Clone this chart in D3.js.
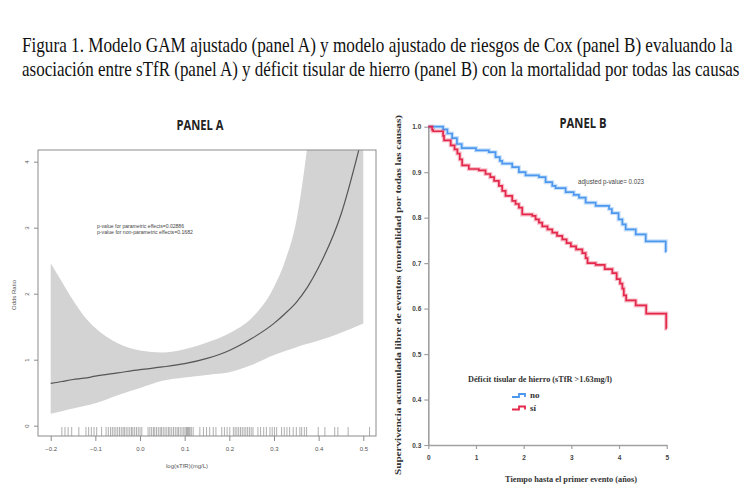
<!DOCTYPE html>
<html>
<head>
<meta charset="utf-8">
<script src="https://cdn.jsdelivr.net/npm/d3@7"></script>
<style>
  body { margin: 0; background: #fff; }
  svg { display: block; }
</style>
</head>
<body>
<div id="chart"></div>
<script>
// figure caption
const titleLines = [
  "Figura 1. Modelo GAM ajustado (panel A) y modelo ajustado de riesgos de Cox (panel B) evaluando la",
  "asociación entre sTfR (panel A) y déficit tisular de hierro (panel B) con la mortalidad por todas las causas"
]
const titleWidths = [711, 718]

// panel A: GAM fit, odds ratio vs log(sTfR)
const gamX     = [-0.2, -0.175, -0.15, -0.125, -0.1, -0.05, 0.0, 0.05, 0.1, 0.15, 0.2, 0.25, 0.3, 0.325, 0.35, 0.375, 0.4, 0.45, 0.5]
const gamFit   = [0.64, 0.67, 0.70, 0.72, 0.75, 0.80, 0.85, 0.89, 0.94, 1.02, 1.14, 1.32, 1.55, 1.70, 1.87, 2.10, 2.40, 3.20, 4.45]
const gamLower = [0.18, 0.22, 0.26, 0.30, 0.34, 0.46, 0.57, 0.68, 0.73, 0.77, 0.81, 0.92, 1.07, 1.13, 1.19, 1.24, 1.29, 1.41, 1.55]
const gamUpper = [2.46, 2.18, 1.90, 1.66, 1.48, 1.25, 1.14, 1.11, 1.16, 1.26, 1.40, 1.63, 2.10, 2.50, 3.10, 4.25, 5.80, 9.00, 13.0]
const rugValues = [-0.175, -0.168, -0.161, -0.153, -0.137, -0.121, -0.115, -0.109, -0.103, -0.097, -0.086,
  -0.076, -0.071, -0.066, -0.062, -0.058, -0.054, -0.05, -0.046, -0.042, -0.038, -0.035, -0.031, -0.027,
  -0.023, -0.019, -0.016, -0.012, -0.008, -0.004, 0.0, 0.004, 0.018, 0.022, 0.026, 0.03, 0.033, 0.037,
  0.041, 0.045, 0.048, 0.052, 0.056, 0.06, 0.064, 0.067, 0.071, 0.075, 0.079, 0.083, 0.086, 0.09, 0.094,
  0.098, 0.101, 0.104, 0.106, 0.108, 0.11, 0.112, 0.115, 0.119, 0.134, 0.142, 0.149, 0.156, 0.164, 0.17,
  0.183, 0.189, 0.195, 0.201, 0.209, 0.213, 0.217, 0.221, 0.225, 0.229, 0.233, 0.237, 0.241, 0.245, 0.249,
  0.253, 0.264, 0.27, 0.277, 0.283, 0.291, 0.296, 0.301, 0.306, 0.317, 0.323, 0.329, 0.335, 0.343, 0.35,
  0.358, 0.362, 0.368, 0.373, 0.399, 0.414, 0.436, 0.443, 0.466, 0.514]
const gamTicksX = [-0.2, -0.1, 0.0, 0.1, 0.2, 0.3, 0.4, 0.5]
const gamTicksY = [0, 1, 2, 3, 4]
const gamNotes = ["p-value for parametric effects=0.02886", "p-value for non-parametric effects=0.1682"]

// panel B: Kaplan-Meier curves
const kmNoTime = [0, 0.31, 0.4, 0.5, 0.6, 0.7, 1.0, 1.27, 1.41, 1.5, 1.55, 1.76, 1.9, 2.04, 2.32, 2.46, 2.6, 2.67,
  2.88, 3.05, 3.16, 3.3, 3.51, 3.79, 3.85, 3.99, 4.07, 4.14, 4.35, 4.56, 4.98, 5.0]
const kmNoSurv = [1.0, 0.994, 0.985, 0.975, 0.962, 0.953, 0.948, 0.944, 0.933, 0.925, 0.919, 0.911, 0.9, 0.893,
  0.889, 0.878, 0.87, 0.865, 0.856, 0.85, 0.844, 0.833, 0.826, 0.819, 0.81, 0.796, 0.785, 0.774, 0.763, 0.748, 0.726, 0.726]
const kmSiTime = [0, 0.08, 0.1, 0.31, 0.33, 0.47, 0.55, 0.61, 0.66, 0.71, 0.85, 1.06, 1.2, 1.3, 1.38, 1.48, 1.55,
  1.62, 1.76, 1.83, 1.9, 1.97, 2.18, 2.25, 2.32, 2.39, 2.5, 2.6, 2.7, 2.81, 2.9, 2.99, 3.1, 3.23, 3.3, 3.34,
  3.51, 3.7, 3.86, 3.95, 4.02, 4.07, 4.1, 4.15, 4.35, 4.57, 4.99, 5.0]
const kmSiSurv = [1.0, 0.993, 0.99, 0.98, 0.97, 0.959, 0.95, 0.941, 0.928, 0.915, 0.907, 0.904, 0.896, 0.889,
  0.881, 0.87, 0.859, 0.848, 0.837, 0.83, 0.822, 0.807, 0.804, 0.796, 0.789, 0.781, 0.774, 0.767, 0.76, 0.752,
  0.744, 0.737, 0.73, 0.722, 0.711, 0.70, 0.696, 0.687, 0.678, 0.665, 0.655, 0.644, 0.629, 0.618, 0.607, 0.589, 0.556, 0.556]
const kmTicksX = [0, 1, 2, 3, 4, 5]
const kmTicksY = [0.3, 0.4, 0.5, 0.6, 0.7, 0.8, 0.9, 1.0]
const kmGroups = ["no", "sí"]
const kmColors = ["#4d98ef", "#e3284b"]

const W = 750, H = 500
const svg = d3.select("#chart").append("svg")
    .attr("width", W).attr("height", H)
svg.append("rect").attr("width", W).attr("height", H).attr("fill", "#fff")

// caption: glyphs are narrow in the original, so squeeze each line horizontally
svg.selectAll(".caption").data(titleLines).enter().append("text")
    .attr("class", "caption")
    .style("font-family", "'Liberation Serif', 'Times New Roman', serif")
    .style("font-size", "21.5px")
    .attr("fill", "#111")
    .text(d => d)
    .each(function(d, i) {
        const natural = this.getComputedTextLength()
        d3.select(this).attr("transform",
            "translate(22," + (52 + i * 24) + ") scale(" + (titleWidths[i] / natural) + ",1)")
    })

// ---------- PANEL A ----------
const frameA = {left: 38, right: 376, top: 150, bottom: 436}
const xA = d3.scaleLinear().domain([-0.2, 0.5]).range([50.7, 363.3])
const yA = d3.scaleLinear().domain([0, 4]).range([425.7, 161.7])

svg.append("text")
    .attr("x", 200).attr("y", 130)
    .attr("text-anchor", "middle")
    .attr("textLength", 47).attr("lengthAdjust", "spacingAndGlyphs")
    .style("font-family", "'Open Sans', sans-serif").style("font-weight", "bold")
    .style("font-size", "15px").attr("fill", "#222")
    .text("PANEL A")

svg.append("clipPath").attr("id", "clipA")
  .append("rect")
    .attr("x", frameA.left).attr("y", frameA.top)
    .attr("width", frameA.right - frameA.left).attr("height", frameA.bottom - frameA.top)

const gamData = gamX.map((x, i) => ({x: x, fit: gamFit[i], lo: gamLower[i], hi: gamUpper[i]}))

const gA = svg.append("g").attr("clip-path", "url(#clipA)")
gA.append("path")
    .datum(gamData)
    .attr("fill", "#d3d3d3")
    .attr("d", d3.area()
        .x(d => xA(d.x))
        .y0(d => yA(d.lo))
        .y1(d => yA(d.hi))
        .curve(d3.curveMonotoneX))
gA.append("path")
    .datum(gamData)
    .attr("fill", "none")
    .attr("stroke", "#555")
    .attr("stroke-width", 1.2)
    .attr("d", d3.line()
        .x(d => xA(d.x))
        .y(d => yA(d.fit))
        .curve(d3.curveMonotoneX))

// rug
svg.append("g").selectAll("line").data(rugValues).enter().append("line")
    .attr("x1", d => xA(d)).attr("x2", d => xA(d))
    .attr("y1", frameA.bottom - 9).attr("y2", frameA.bottom)
    .attr("stroke", "#777").attr("stroke-width", 0.6)

svg.append("rect")
    .attr("x", frameA.left).attr("y", frameA.top)
    .attr("width", frameA.right - frameA.left).attr("height", frameA.bottom - frameA.top)
    .attr("fill", "none").attr("stroke", "#8c8c8c").attr("stroke-width", 1)

const axA = svg.append("g")
    .attr("transform", "translate(0," + frameA.bottom + ")")
    .call(d3.axisBottom(xA).tickValues(gamTicksX).tickFormat(d3.format(".1f")).tickSize(5).tickPadding(6))
const ayA = svg.append("g")
    .attr("transform", "translate(" + frameA.left + ",0)")
    .call(d3.axisLeft(yA).tickValues(gamTicksY).tickFormat(d3.format("d")).tickSize(4))
;[axA, ayA].forEach(a => {
    a.select(".domain").remove()
    a.selectAll("line").attr("stroke", "#8c8c8c")
    a.selectAll("text").attr("fill", "#555")
        .style("font-family", "'Liberation Sans', Arial, sans-serif").style("font-size", "6px")
})
ayA.selectAll("text")
    .attr("x", 0).attr("dy", 0)
    .attr("text-anchor", "middle")
    .attr("transform", "translate(-9,0) rotate(-90)")

svg.append("text")
    .attr("x", 187).attr("y", 468)
    .attr("text-anchor", "middle")
    .style("font-family", "'Liberation Sans', Arial, sans-serif").style("font-size", "6px")
    .attr("fill", "#555")
    .text("log(sTfR)(mg/L)")
svg.append("text")
    .attr("transform", "translate(16,295) rotate(-90)")
    .attr("text-anchor", "middle")
    .style("font-family", "'Liberation Sans', Arial, sans-serif").style("font-size", "6px")
    .attr("fill", "#555")
    .text("Odds Ratio")
svg.selectAll(".note").data(gamNotes).enter().append("text")
    .attr("class", "note")
    .attr("x", 97).attr("y", (d, i) => 228 + i * 5.5)
    .attr("textLength", (d, i) => i === 0 ? 87 : 96)
    .attr("lengthAdjust", "spacingAndGlyphs")
    .style("font-family", "'Liberation Sans', Arial, sans-serif").style("font-size", "5.5px")
    .attr("fill", "#444")
    .text(d => d)

// ---------- PANEL B ----------
const xB = d3.scaleLinear().domain([0, 5]).range([428.3, 666.7])
const yB = d3.scaleLinear().domain([0.3, 1.0]).range([445, 126.7])

svg.append("text")
    .attr("x", 583).attr("y", 128)
    .attr("text-anchor", "middle")
    .attr("textLength", 47).attr("lengthAdjust", "spacingAndGlyphs")
    .style("font-family", "'Open Sans', sans-serif").style("font-weight", "bold")
    .style("font-size", "15px").attr("fill", "#222")
    .text("PANEL B")

const axB = svg.append("g")
    .attr("transform", "translate(0," + yB(0.3) + ")")
    .call(d3.axisBottom(xB).tickValues(kmTicksX).tickFormat(d3.format("d")).tickSize(4).tickSizeOuter(0).tickPadding(6))
const ayB = svg.append("g")
    .attr("transform", "translate(" + xB(0) + ",0)")
    .call(d3.axisLeft(yB).tickValues(kmTicksY).tickFormat(d3.format(".1f")).tickSize(4).tickSizeOuter(0).tickPadding(3))
;[axB, ayB].forEach(a => {
    a.select(".domain").attr("stroke", "#a0a0a0").attr("stroke-width", 1.6)
    a.selectAll("line").attr("stroke", "#a0a0a0").attr("stroke-width", 1.2)
    a.selectAll("text").attr("fill", "#444")
        .style("font-family", "'Liberation Sans', Arial, sans-serif")
        .style("font-weight", "bold").style("font-size", "6.5px")
})

const kmSeries = [
    kmNoTime.map((t, i) => ({t: t, s: kmNoSurv[i]})),
    kmSiTime.map((t, i) => ({t: t, s: kmSiSurv[i]}))
]
const kmLine = d3.line()
    .x(d => xB(d.t))
    .y(d => yB(d.s))
    .curve(d3.curveStepAfter)
kmSeries.forEach((ser, i) => {
    svg.append("path").datum(ser)
        .attr("fill", "none").attr("stroke", kmColors[i])
        .attr("stroke-opacity", 0.3).attr("stroke-width", 4)
        .attr("d", kmLine)
    svg.append("path").datum(ser)
        .attr("fill", "none").attr("stroke", kmColors[i])
        .attr("stroke-width", 1.7)
        .attr("d", kmLine)
})

svg.append("text")
    .attr("x", 578).attr("y", 184)
    .attr("textLength", 66).attr("lengthAdjust", "spacingAndGlyphs")
    .style("font-family", "'Liberation Sans', Arial, sans-serif").style("font-size", "6.5px")
    .attr("fill", "#444")
    .text("adjusted p-value= 0.023")

svg.append("text")
    .attr("transform", "translate(401,295) rotate(-90)")
    .attr("text-anchor", "middle")
    .attr("textLength", 360).attr("lengthAdjust", "spacingAndGlyphs")
    .style("font-family", "'Liberation Serif', serif").style("font-weight", "bold")
    .style("font-size", "7.5px").attr("fill", "#333")
    .text("Supervivencia acumulada libre de eventos (mortalidad por todas las causas)")

svg.append("text")
    .attr("x", 571).attr("y", 482)
    .attr("text-anchor", "middle")
    .attr("textLength", 132).attr("lengthAdjust", "spacingAndGlyphs")
    .style("font-family", "'Liberation Serif', serif").style("font-weight", "bold")
    .style("font-size", "9px").attr("fill", "#333")
    .text("Tiempo hasta el primer evento (años)")

// legend
svg.append("text")
    .attr("x", 468).attr("y", 382)
    .attr("textLength", 144).attr("lengthAdjust", "spacingAndGlyphs")
    .style("font-family", "'Liberation Serif', serif").style("font-weight", "bold")
    .style("font-size", "8.5px").attr("fill", "#333")
    .text("Déficit tisular de hierro (sTfR >1.63mg/l)")
const legendGlyph = [[0, 3], [7, 0], [13, 3], [13, 3]]
const legend = svg.selectAll(".leg").data(kmGroups).enter().append("g")
    .attr("class", "leg")
    .attr("transform", (d, i) => "translate(512," + (394 + i * 12.5) + ")")
legend.append("path")
    .attr("fill", "none")
    .attr("stroke", (d, i) => kmColors[i])
    .attr("stroke-width", 1.8)
    .attr("d", d3.line().curve(d3.curveStepAfter)(legendGlyph))
legend.append("text")
    .attr("x", 18).attr("y", 4)
    .style("font-family", "'Liberation Serif', serif").style("font-weight", "bold")
    .style("font-size", "9px").attr("fill", "#333")
    .text(d => d)
</script>
</body>
</html>
